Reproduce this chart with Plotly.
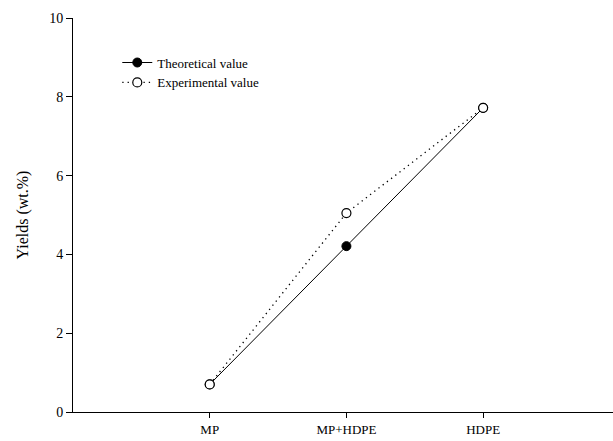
import plotly.graph_objects as go

# Feedstock categories and yields (wt.%)
categories = ["MP", "MP+HDPE", "HDPE"]
x_positions = [1, 2, 3]
theoretical = [0.70, 4.21, 7.72]
experimental = [0.70, 5.05, 7.72]
y_ticks = [0, 2, 4, 6, 8, 10]

serif = "Liberation Serif, Times New Roman, serif"

fig = go.Figure()

fig.add_trace(go.Scatter(
    x=x_positions, y=theoretical, name="Theoretical value",
    mode="lines+markers",
    line=dict(color="black", width=1),
    marker=dict(symbol="circle", size=9, color="black",
                line=dict(color="black", width=1)),
))

fig.add_trace(go.Scatter(
    x=x_positions, y=experimental, name="Experimental value",
    mode="lines+markers",
    line=dict(color="black", width=1.3, dash="1.3px,4px"),
    marker=dict(symbol="circle", size=9, color="white",
                line=dict(color="black", width=1.2)),
))

fig.update_layout(
    width=613, height=441,
    margin=dict(l=73, r=0, t=18, b=29),
    paper_bgcolor="white", plot_bgcolor="white",
    font=dict(family=serif, color="black", size=13),
    showlegend=True,
    legend=dict(
        x=0.082, y=0.925, xanchor="left", yanchor="top",
        bgcolor="rgba(0,0,0,0)", borderwidth=0,
        font=dict(family=serif, size=13, color="black"),
        itemwidth=30, tracegroupgap=0,
    ),
    xaxis=dict(
        range=[0, 3.95], tickvals=x_positions, ticktext=categories,
        showline=True, linecolor="black", linewidth=1,
        ticks="outside", ticklen=5, tickwidth=1, tickcolor="black",
        showgrid=False, zeroline=False,
        tickfont=dict(family=serif, size=13),
    ),
    yaxis=dict(
        range=[0, 10], tickvals=y_ticks,
        showline=True, linecolor="black", linewidth=1,
        ticks="outside", ticklen=6, tickwidth=1, tickcolor="black",
        showgrid=False, zeroline=False,
        tickfont=dict(family=serif, size=14),
        title=dict(text="Yields (wt.%)", font=dict(family=serif, size=16),
                   standoff=16),
    ),
)

fig.write_html("out.html")
